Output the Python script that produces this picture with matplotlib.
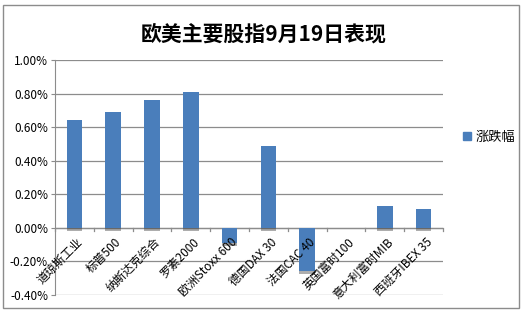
import matplotlib
matplotlib.use("Agg")
import matplotlib.pyplot as plt
import matplotlib.patheffects as pe
from matplotlib.patches import Rectangle
from matplotlib.ticker import FuncFormatter

plt.rcParams['font.family'] = ['Noto Sans CJK SC', 'DejaVu Sans']

# data
names = ['道琼斯工业', '标普500', '纳斯达克综合', '罗素2000', '欧洲Stoxx 600',
         '德国DAX 30', '法国CAC 40', '英国富时100', '意大利富时MIB', '西班牙IBEX 35']
change = [0.64, 0.69, 0.76, 0.81, -0.09, 0.49, -0.26, 0.0, 0.13, 0.11]
series_name = '涨跌幅'
title = '欧美主要股指9月19日表现'
yticks = [-0.4, -0.2, 0.0, 0.2, 0.4, 0.6, 0.8, 1.0]

bar_color = '#4a7ebb'
grey = '#8c8c8c'

fig = plt.figure(figsize=(5.28, 3.15), dpi=100)
fig.patches.append(Rectangle((0.006, 0.022), 0.977, 0.962, transform=fig.transFigure,
                             fill=False, edgecolor=grey, linewidth=1))

ax = fig.add_axes([0.104, 0.0635, 0.735, 0.746])
x = range(len(names))
bars = ax.bar(x, change, width=0.4, color=bar_color, zorder=3)
for b in bars:
    b.set_path_effects([pe.SimplePatchShadow(offset=(0, -2), shadow_rgbFace='#333333', alpha=0.4),
                        pe.Normal()])

ax.set_ylim(-0.4, 1.0)
ax.set_xlim(-0.5, len(names) - 0.5)
ax.set_yticks(yticks)
ax.yaxis.set_major_formatter(FuncFormatter(lambda v, p: f'{v:.2f}%'))
ax.tick_params(axis='y', labelsize=8.5, length=3, color=grey, pad=2)
ax.grid(axis='y', color=grey, linewidth=0.9, zorder=0)

for s in ['top', 'right', 'bottom']:
    ax.spines[s].set_visible(False)
ax.spines['left'].set_color(grey)
ax.axhline(0, color=grey, linewidth=0.9, zorder=2)

# category tick marks on the zero line, between categories
ax.set_xticks([])
for i in range(len(names) + 1):
    ax.plot([i - 0.5, i - 0.5], [0, -0.02], color=grey, linewidth=0.9,
            clip_on=False, zorder=2)

for i, n in enumerate(names):
    ax.text(i + 0.05, -0.045, n, rotation=45, ha='right', va='top',
            rotation_mode='anchor', fontsize=8.5, zorder=4)

fig.text(0.5, 0.893, title, ha='center', va='center', fontsize=15, fontweight='bold')

handle = Rectangle((0, 0), 1, 1, color=bar_color)
fig.legend([handle], [series_name], loc='center left', bbox_to_anchor=(0.855, 0.565),
           frameon=False, fontsize=9.5, handlelength=0.6, handleheight=0.6,
           handletextpad=0.3)

fig.savefig('out.png', dpi=100)
